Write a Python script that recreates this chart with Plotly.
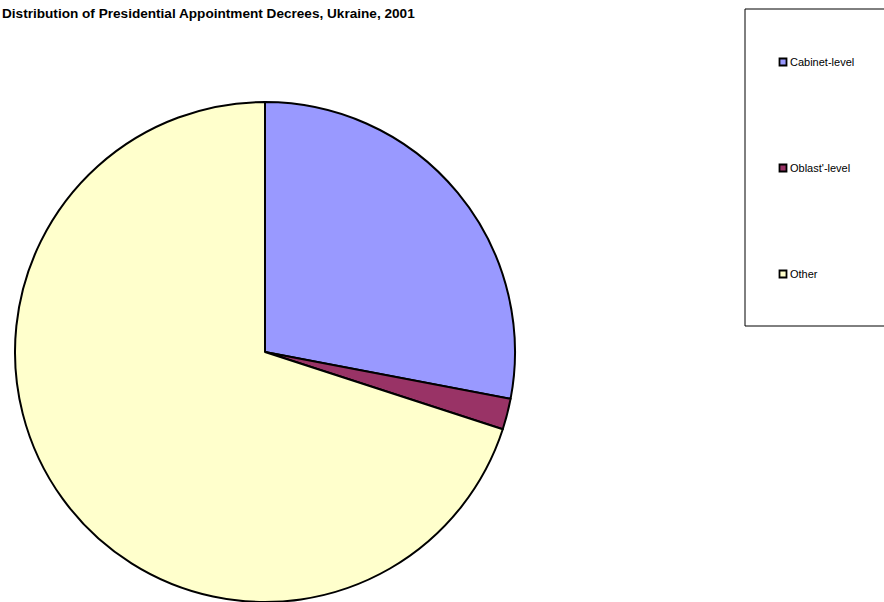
import plotly.graph_objects as go

# Share of presidential appointment decrees by level, Ukraine 2001 (percent)
categories = ["Cabinet-level", "Oblast'-level", "Other"]
shares = [28, 2, 70]
colors = ["#9999FF", "#993366", "#FFFFCC"]

W, H = 884, 602


def px_x(x):
    return x / W


def px_y(y):
    return 1 - y / H


fig = go.Figure(
    go.Pie(
        labels=categories,
        values=shares,
        sort=False,
        direction="clockwise",
        rotation=0,
        textinfo="none",
        hoverinfo="label+percent",
        marker=dict(colors=colors, line=dict(color="black", width=2)),
        domain=dict(x=[px_x(15), px_x(515)], y=[0, 500 / H]),
        showlegend=False,
    )
)

# Legend panel drawn on the right, partly running off the canvas edge
shapes = [
    dict(
        type="rect", xref="paper", yref="paper",
        x0=px_x(745), x1=px_x(900), y0=px_y(326), y1=px_y(9),
        line=dict(color="black", width=1), fillcolor="white", layer="below",
    )
]
annotations = []
item_y = [62, 168, 274]
for name, col, yy in zip(categories, colors, item_y):
    shapes.append(
        dict(
            type="rect", xref="paper", yref="paper",
            x0=px_x(779.5), x1=px_x(786.5), y0=px_y(yy + 3.5), y1=px_y(yy - 3.5),
            line=dict(color="black", width=1.8), fillcolor=col,
        )
    )
    annotations.append(
        dict(
            text=name, xref="paper", yref="paper",
            x=px_x(788), y=px_y(yy), xanchor="left", yanchor="middle",
            showarrow=False,
            font=dict(family="Liberation Sans, Arial, sans-serif", size=11, color="black"),
        )
    )

fig.update_layout(
    width=W,
    height=H,
    margin=dict(l=0, r=0, t=0, b=0),
    paper_bgcolor="white",
    plot_bgcolor="white",
    title=dict(
        text="<b>Distribution of Presidential Appointment Decrees, Ukraine, 2001</b>",
        x=px_x(2), xanchor="left", xref="paper",
        y=px_y(13), yanchor="middle", yref="paper",
        font=dict(family="Liberation Sans, Arial, sans-serif", size=13.6, color="black"),
    ),
    shapes=shapes,
    annotations=annotations,
)

fig.write_html("out.html")
